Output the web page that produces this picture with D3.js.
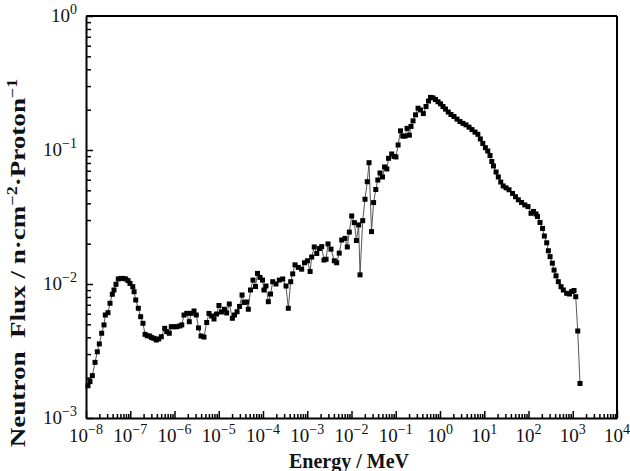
<!DOCTYPE html>
<html lang="en">
<head>
  <meta charset="UTF-8">
  <title>Neutron Flux vs Energy</title>
  <script src="https://d3js.org/d3.v7.min.js"></script>
  <style>
    body {
      margin: 0;
      background-color: #ffffff;
      font-family: 'Liberation Serif', 'DejaVu Serif', serif;
    }

    .axis path,
    .axis line {
      stroke: #000;
    }

    .axis path {
      stroke-width: 2;
    }

    .tick-label {
      font-size: 19px;
      fill: #111;
    }

    .axis-title {
      font-size: 20px;
      font-weight: bold;
      fill: #111;
    }
  </style>
</head>
<body>
  <svg width="630" height="471"></svg>

  <script>
    // Energy (MeV) and neutron flux (n/cm^2/proton)
    const energy = [
      1.11e-8, 1.23e-8, 1.39e-8, 1.60e-8, 1.80e-8, 2.00e-8, 2.26e-8, 2.55e-8, 2.73e-8, 3.14e-8,
      3.49e-8, 3.93e-8, 4.29e-8, 4.76e-8, 5.37e-8, 6.08e-8, 6.97e-8, 7.89e-8, 8.90e-8, 9.87e-8,
      1.14e-7, 1.22e-7, 1.33e-7, 1.52e-7, 1.72e-7, 1.94e-7, 2.16e-7, 2.43e-7, 2.75e-7, 3.05e-7,
      3.44e-7, 3.88e-7, 4.40e-7, 5.03e-7, 6.01e-7, 6.67e-7, 7.63e-7, 8.47e-7, 9.75e-7, 1.12e-6,
      1.31e-6, 1.46e-6, 1.64e-6, 1.89e-6, 2.16e-6, 2.40e-6, 2.76e-6, 3.11e-6, 3.49e-6, 3.97e-6,
      4.64e-6, 5.34e-6, 6.02e-6, 6.93e-6, 7.81e-6, 8.90e-6, 1.01e-5, 1.15e-5, 1.34e-5, 1.51e-5,
      1.73e-5, 2.03e-5, 2.27e-5, 2.59e-5, 2.95e-5, 3.36e-5, 3.72e-5, 4.24e-5, 4.66e-5, 5.22e-5,
      5.95e-5, 6.77e-5, 7.51e-5, 8.56e-5, 9.75e-5, 1.05e-4, 1.17e-4, 1.32e-4, 1.48e-4, 1.66e-4,
      1.97e-4, 2.34e-4, 2.79e-4, 3.31e-4, 3.73e-4, 4.23e-4, 4.69e-4, 5.29e-4, 6.28e-4, 7.49e-4,
      8.67e-4, 1.01e-3, 1.16e-3, 1.26e-3, 1.44e-3, 1.64e-3, 1.89e-3, 2.12e-3, 2.39e-3, 2.66e-3,
      2.95e-3, 3.44e-3, 4.09e-3, 4.63e-3, 5.28e-3, 6.01e-3, 7.14e-3, 8.04e-3, 8.93e-3, 1.01e-2,
      1.16e-2, 1.29e-2, 1.45e-2, 1.56e-2, 1.79e-2, 2.02e-2, 2.27e-2, 2.49e-2, 2.83e-2, 3.16e-2,
      3.54e-2, 3.93e-2, 4.41e-2, 5.02e-2, 5.58e-2, 6.29e-2, 6.87e-2, 8.11e-2, 9.14e-2, 0.101,
      0.113, 0.128, 0.144, 0.162, 0.180, 0.203, 0.221, 0.246, 0.280, 0.319,
      0.363, 0.420, 0.483, 0.550, 0.611, 0.696, 0.792, 0.902, 1.03, 1.17,
      1.33, 1.54, 1.77, 2.07, 2.42, 2.83, 3.31, 3.87, 4.53, 5.29,
      6.19, 7.16, 8.15, 9.28, 10.6, 12.0, 13.5, 14.8, 16.2, 18.5,
      20.8, 23.6, 26.8, 31.1, 36.3, 43.6, 50.9, 58.9, 69.6, 82.6,
      97.5, 114, 130, 148, 160, 182, 208, 228, 258, 281,
      307, 346, 378, 419, 472, 543, 612, 731, 846, 948,
      1069, 1168, 1296, 1460
    ];

    const flux = [
      1.74e-3, 1.87e-3, 2.07e-3, 2.60e-3, 3.12e-3, 3.57e-3, 4.29e-3, 4.95e-3, 5.87e-3, 6.11e-3,
      7.18e-3, 8.38e-3, 9.02e-3, 9.95e-3, 1.09e-2, 1.10e-2, 1.10e-2, 1.09e-2, 1.06e-2, 1.01e-2,
      9.55e-3, 8.76e-3, 7.60e-3, 6.59e-3, 5.70e-3, 5.09e-3, 4.21e-3, 4.11e-3, 4.09e-3, 3.98e-3,
      3.93e-3, 3.82e-3, 3.89e-3, 4.04e-3, 4.67e-3, 4.41e-3, 4.29e-3, 4.80e-3, 4.80e-3, 4.80e-3,
      4.86e-3, 4.95e-3, 5.87e-3, 6.04e-3, 5.23e-3, 6.04e-3, 6.29e-3, 5.87e-3, 4.70e-3, 4.09e-3,
      4.02e-3, 5.16e-3, 6.03e-3, 5.77e-3, 5.48e-3, 5.97e-3, 6.91e-3, 6.18e-3, 6.48e-3, 6.08e-3,
      7.09e-3, 5.55e-3, 5.87e-3, 6.21e-3, 6.80e-3, 8.28e-3, 7.28e-3, 7.34e-3, 6.48e-3, 9.02e-3,
      1.07e-2, 9.58e-3, 1.20e-2, 1.12e-2, 1.07e-2, 9.02e-3, 9.66e-3, 7.38e-3, 8.42e-3, 1.04e-2,
      1.00e-2, 1.07e-2, 1.09e-2, 9.66e-3, 6.59e-3, 1.04e-2, 1.19e-2, 1.39e-2, 1.33e-2, 1.29e-2,
      1.44e-2, 1.49e-2, 1.24e-2, 1.59e-2, 1.89e-2, 1.69e-2, 1.84e-2, 1.90e-2, 1.51e-2, 1.53e-2,
      1.99e-2, 1.82e-2, 1.49e-2, 1.44e-2, 1.70e-2, 2.13e-2, 2.19e-2, 1.89e-2, 2.44e-2, 3.22e-2,
      2.87e-2, 2.11e-2, 2.76e-2, 1.17e-2, 2.97e-2, 4.29e-2, 5.80e-2, 8.04e-2, 2.46e-2, 4.05e-2,
      5.07e-2, 5.97e-2, 6.74e-2, 6.29e-2, 7.47e-2, 7.22e-2, 8.67e-2, 9.34e-2, 8.95e-2, 8.87e-2,
      0.109, 0.139, 0.127, 0.127, 0.145, 0.129, 0.150, 0.165, 0.183, 0.205,
      0.199, 0.187, 0.211, 0.232, 0.247, 0.245, 0.238, 0.229, 0.221, 0.211,
      0.202, 0.192, 0.184, 0.178, 0.170, 0.163, 0.158, 0.154, 0.148, 0.142,
      0.136, 0.131, 0.121, 0.112, 0.104, 9.83e-2, 9.10e-2, 8.21e-2, 7.60e-2, 6.85e-2,
      6.29e-2, 5.77e-2, 5.39e-2, 5.22e-2, 5.05e-2, 4.74e-2, 4.48e-2, 4.25e-2, 4.06e-2, 3.89e-2,
      3.78e-2, 3.37e-2, 3.48e-2, 3.33e-2, 3.19e-2, 2.88e-2, 2.60e-2, 2.28e-2, 2.03e-2, 1.77e-2,
      1.60e-2, 1.43e-2, 1.27e-2, 1.15e-2, 1.04e-2, 9.55e-3, 9.02e-3, 8.52e-3, 8.42e-3, 8.79e-3,
      8.94e-3, 8.04e-3, 4.46e-3, 1.81e-3
    ];

    // decade exponents used for the tick labels
    const xTickExps = [-8, -7, -6, -5, -4, -3, -2, -1, 0, 1, 2, 3, 4];
    const yTickExps = [-3, -2, -1, 0];

    const data = energy.map((e, i) => ({ e: e, f: flux[i] }));

    const svg = d3.select("svg"),
      margin = { top: 16, right: 13, bottom: 53, left: 86 },
      width = +svg.attr("width") - margin.left - margin.right,
      height = +svg.attr("height") - margin.top - margin.bottom;

    const g = svg.append("g").attr("transform", `translate(${margin.left},${margin.top})`);

    const x = d3.scaleLog()
      .domain([1e-8, 1e4])
      .range([0, width]);

    const y = d3.scaleLog()
      .domain([1e-3, 1])
      .range([height, 0]);

    const xMajor = xTickExps.map(p => Math.pow(10, p));
    const yMajor = yTickExps.map(p => Math.pow(10, p));

    // minor ticks: 2..9 inside every decade
    function minors(exps) {
      const out = [];
      exps.slice(0, -1).forEach(p => {
        for (let k = 2; k <= 9; k++) out.push(k * Math.pow(10, p));
      });
      return out;
    }

    // Bottom axis (ticks point inward)
    g.append("g")
      .attr("class", "axis")
      .attr("transform", `translate(0,${height})`)
      .call(d3.axisBottom(x).tickValues(minors(xTickExps)).tickSize(-4).tickFormat(""))
      .call(a => a.select(".domain").remove());

    g.append("g")
      .attr("class", "axis")
      .attr("transform", `translate(0,${height})`)
      .call(d3.axisBottom(x).tickValues(xMajor).tickSize(-7).tickSizeOuter(0).tickFormat(""));

    // Left axis
    g.append("g")
      .attr("class", "axis")
      .call(d3.axisLeft(y).tickValues(minors(yTickExps)).tickSize(-5).tickFormat(""))
      .call(a => a.select(".domain").remove());

    g.append("g")
      .attr("class", "axis")
      .call(d3.axisLeft(y).tickValues(yMajor).tickSize(-7).tickSizeOuter(0).tickFormat(""));

    g.selectAll(".axis line").attr("stroke-width", 1.5);

    // Top and right frame
    g.append("line")
      .attr("x1", 0).attr("x2", width).attr("y1", 0).attr("y2", 0)
      .attr("stroke", "#000").attr("stroke-width", 2);
    g.append("line")
      .attr("x1", width).attr("x2", width).attr("y1", 0).attr("y2", height)
      .attr("stroke", "#000").attr("stroke-width", 2);

    // Tick labels as 10^n
    const minus = p => (p < 0 ? "\u2212" + Math.abs(p) : String(p));

    const xLab = g.selectAll(".xlab")
      .data(xTickExps)
      .enter()
      .append("text")
      .attr("class", "tick-label")
      .attr("x", p => x(Math.pow(10, p)))
      .attr("y", height + 24)
      .attr("text-anchor", "middle");
    xLab.append("tspan").text("10");
    xLab.append("tspan").attr("dy", -8).style("font-size", "14px").text(p => minus(p));

    const yLab = g.selectAll(".ylab")
      .data(yTickExps)
      .enter()
      .append("text")
      .attr("class", "tick-label")
      .attr("x", -9)
      .attr("y", p => y(Math.pow(10, p)) + 6)
      .attr("text-anchor", "end");
    yLab.append("tspan").text("10");
    yLab.append("tspan").attr("dy", -8).style("font-size", "14px").text(p => minus(p));

    // Connecting line
    const line = d3.line()
      .x(d => x(d.e))
      .y(d => y(d.f));

    g.append("path")
      .datum(data)
      .attr("fill", "none")
      .attr("stroke", "#444")
      .attr("stroke-width", 0.9)
      .attr("d", line);

    // Square markers
    const s = 5;
    g.selectAll(".pt")
      .data(data)
      .enter()
      .append("rect")
      .attr("class", "pt")
      .attr("x", d => x(d.e) - s / 2)
      .attr("y", d => y(d.f) - s / 2)
      .attr("width", s)
      .attr("height", s)
      .attr("fill", "#000");

    // Axis titles
    svg.append("text")
      .attr("class", "axis-title")
      .attr("x", 349)
      .attr("y", 468)
      .attr("text-anchor", "middle")
      .text("Energy / MeV");

    // y title is drawn stretched along its length, as in the source figure
    const yt = svg.append("text")
      .attr("class", "axis-title")
      .attr("transform", "translate(25,263) rotate(-90) scale(1.29,1)")
      .attr("text-anchor", "middle")
      .style("font-size", "21px");
    yt.append("tspan").text("Neutron\u00a0\u00a0Flux / n\u00b7cm");
    yt.append("tspan").attr("dy", -8).style("font-size", "14px").text("\u22122");
    yt.append("tspan").attr("dy", 8).text("\u00b7Proton");
    yt.append("tspan").attr("dy", -8).style("font-size", "14px").text("\u22121");
  </script>
</body>
</html>
